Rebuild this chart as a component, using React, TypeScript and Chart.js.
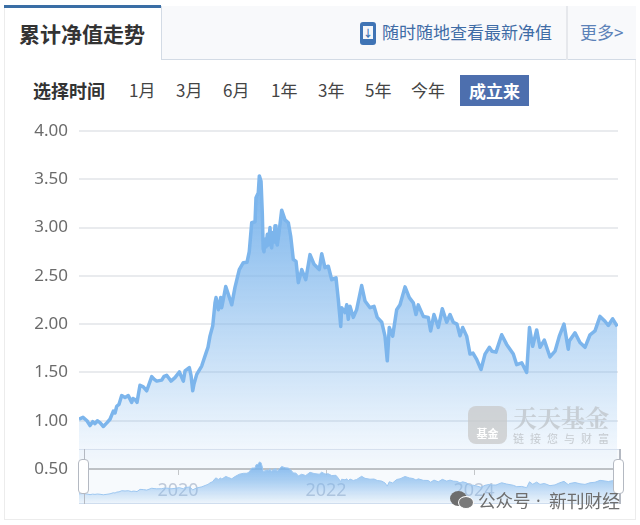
import React, { useEffect, useRef } from "react";
import { Chart, registerables } from "chart.js";

Chart.register(...registerables);

const years = [
  2018.662, 2018.716, 2018.77, 2018.811, 2018.847, 2018.878, 2018.909, 2018.946, 2018.991, 2019.041, 2019.081, 2019.126,
  2019.149, 2019.172, 2019.203, 2019.239, 2019.284, 2019.328, 2019.374, 2019.392, 2019.419, 2019.446, 2019.486, 2019.531,
  2019.577, 2019.645, 2019.676, 2019.712, 2019.78, 2019.811, 2019.847, 2019.878, 2019.905, 2019.959, 2020.018, 2020.072,
  2020.095, 2020.153, 2020.176, 2020.199, 2020.216, 2020.253, 2020.32, 2020.378, 2020.405, 2020.432, 2020.469, 2020.5,
  2020.514, 2020.545, 2020.577, 2020.59, 2020.608, 2020.645, 2020.68, 2020.726, 2020.77, 2020.828, 2020.882, 2020.932, 2020.963,
  2020.996, 2021.041, 2021.054, 2021.085, 2021.099, 2021.122, 2021.139, 2021.151, 2021.162, 2021.176, 2021.189, 2021.207, 2021.223, 2021.243, 2021.257, 2021.266, 2021.284, 2021.297, 2021.311,
  2021.324, 2021.342, 2021.365, 2021.401, 2021.446, 2021.491, 2021.523, 2021.558, 2021.595, 2021.626, 2021.672, 2021.726, 2021.784, 2021.838,
  2021.909, 2021.942, 2021.986, 2022.031, 2022.077, 2022.135, 2022.166, 2022.199, 2022.212, 2022.257, 2022.28, 2022.301, 2022.324,
  2022.369, 2022.414, 2022.482, 2022.527, 2022.595, 2022.649, 2022.693, 2022.753, 2022.797, 2022.828, 2022.855, 2022.901,
  2022.955, 2023.0, 2023.068, 2023.126, 2023.18, 2023.216, 2023.247, 2023.315, 2023.382, 2023.414, 2023.459, 2023.518,
  2023.572, 2023.631, 2023.676, 2023.72, 2023.77, 2023.811, 2023.847, 2023.901, 2023.946, 2023.986, 2024.036, 2024.095,
  2024.149, 2024.207, 2024.243, 2024.297, 2024.374, 2024.441, 2024.531, 2024.577, 2024.645, 2024.712, 2024.75, 2024.793,
  2024.847, 2024.892, 2024.95, 2025.027, 2025.095, 2025.153, 2025.216, 2025.274, 2025.288, 2025.365, 2025.432, 2025.5,
  2025.568, 2025.635, 2025.703, 2025.77, 2025.815, 2025.874, 2025.936,
];

const navValues = [
  1.015, 1.035, 1.0, 0.95, 0.99, 0.97, 1.0, 0.98, 0.94, 0.98, 1.015, 1.1,
  1.08, 1.15, 1.17, 1.26, 1.24, 1.26, 1.19, 1.23, 1.22, 1.19, 1.367, 1.35,
  1.31, 1.457, 1.43, 1.41, 1.42, 1.46, 1.47, 1.44, 1.41, 1.446, 1.505, 1.41,
  1.515, 1.55, 1.47, 1.31, 1.38, 1.48, 1.566, 1.7, 1.76, 1.876, 1.98, 2.22,
  2.275, 2.15, 2.275, 2.17, 2.24, 2.39, 2.31, 2.2, 2.38, 2.565, 2.636, 2.64, 2.75,
  3.05, 3.06, 3.31, 3.36, 3.535, 3.48, 3.15, 2.78, 2.75, 2.88, 2.8, 2.93, 2.82, 3.0, 2.82, 2.79, 2.95, 2.85, 3.02,
  2.86, 2.82, 2.95, 3.18, 3.08, 3.05, 2.91, 2.67, 2.65, 2.43, 2.565, 2.46, 2.72, 2.62,
  2.565, 2.73, 2.585, 2.6, 2.46, 2.48, 2.255, 1.976, 2.17, 2.12, 2.2, 2.05, 2.185,
  2.07, 2.15, 2.4, 2.24, 2.17, 2.185, 2.07, 2.02, 1.876, 1.62, 1.966, 1.876,
  2.15, 2.2, 2.386, 2.275, 2.22, 2.1, 2.2, 2.08, 2.07, 1.93, 2.1, 1.966,
  2.16, 2.02, 2.1, 2.02, 2.0, 1.88, 1.966, 1.876, 1.69, 1.7, 1.635, 1.53,
  1.69, 1.76, 1.72, 1.71, 1.89, 1.79, 1.69, 1.58, 1.6, 1.5, 1.966, 1.77,
  1.94, 1.76, 1.835, 1.66, 1.72, 1.876, 2.0, 1.74, 1.825, 1.91, 1.81, 1.76,
  1.89, 1.93, 2.08, 2.03, 1.986, 2.055, 1.976,
];

const yearTicks = [2020, 2022, 2024];
const ranges = ["1月", "3月", "6月", "1年", "3年", "5年", "今年"];
const rangeLeft = [129, 176, 223, 271, 318, 365, 411];

const X_MIN = 2018.662;
const X_MAX = 2025.946;
const points = years.map((x, i) => ({ x, y: navValues[i] }));
const FONT = '"Noto Sans", "Noto Sans CJK SC", sans-serif';
const CJK = '"Noto Sans CJK SC", "Noto Sans", sans-serif';

function fillGradient(stops: [number, string][]) {
  return (ctx: any) => {
    const { chart } = ctx;
    const a = chart.chartArea;
    if (!a) return "rgba(124,181,236,0.4)";
    const g = chart.ctx.createLinearGradient(0, a.top, 0, a.bottom);
    stops.forEach(([o, c]) => g.addColorStop(o, c));
    return g;
  };
}

const abs = (left: number, top: number, extra: any = {}) => ({
  position: "absolute",
  left,
  top,
  whiteSpace: "nowrap",
  ...extra,
}) as React.CSSProperties;

export default function App() {
  const mainRef = useRef<HTMLCanvasElement>(null);
  const navRef = useRef<HTMLCanvasElement>(null);

  useEffect(() => {
    const main = new Chart(mainRef.current!, {
      type: "line",
      data: {
        datasets: [
          {
            data: points,
            borderColor: "#7cb5ec",
            borderWidth: 3.5,
            borderJoinStyle: "round",
            pointRadius: 0,
            tension: 0,
            fill: "start",
            backgroundColor: fillGradient([
              [0, "rgba(124,181,236,1)"],
              [0.2, "rgba(124,181,236,0.95)"],
              [0.55, "rgba(124,181,236,0.55)"],
              [1, "rgba(124,181,236,0.04)"],
            ]),
          },
        ],
      },
      options: {
        animation: false,
        responsive: false,
        events: [],
        layout: { padding: { left: 0, right: 22, top: 131, bottom: 0 } },
        plugins: { legend: { display: false }, tooltip: { enabled: false } },
        scales: {
          x: {
            type: "linear",
            min: X_MIN,
            max: X_MAX,
            afterBuildTicks: (s: any) => {
              s.ticks = yearTicks.map((value) => ({ value }));
            },
            afterFit: (s: any) => {
              s.height = 56;
            },
            grid: { drawOnChartArea: false, tickLength: 6, tickColor: "#b0b0b0", tickWidth: 1 },
            border: { color: "#a8a8a8", width: 2 },
            ticks: {
              callback: (v: any) => String(v),
              color: "#aab5c8",
              font: { family: FONT, size: 18 },
              padding: 5,
              maxRotation: 0,
              autoSkip: false,
            },
          },
          y: {
            min: 0.5,
            max: 4,
            afterFit: (s: any) => {
              s.width = 79;
            },
            grid: { color: "#e9ebee", lineWidth: 2, drawTicks: false },
            border: { display: false },
            ticks: {
              stepSize: 0.5,
              callback: (v: any) => Number(v).toFixed(2),
              color: "#6b6b6b",
              font: { family: FONT, size: 17 },
              padding: 11,
            },
          },
        },
      },
    } as any);

    const nav = new Chart(navRef.current!, {
      type: "line",
      data: {
        datasets: [
          {
            data: points,
            borderColor: "#9cc6f0",
            borderWidth: 1,
            borderJoinStyle: "round",
            pointRadius: 0,
            tension: 0,
            fill: "start",
            backgroundColor: fillGradient([
              [0.2, "rgba(124,181,236,1)"],
              [0.6, "rgba(124,181,236,0.6)"],
              [1, "rgba(124,181,236,0.06)"],
            ]),
          },
        ],
      },
      options: {
        animation: false,
        responsive: false,
        events: [],
        layout: { padding: { left: 79, right: 22, top: 449, bottom: 21 } },
        plugins: { legend: { display: false }, tooltip: { enabled: false } },
        scales: {
          x: { type: "linear", display: false, min: X_MIN, max: X_MAX },
          y: { display: false, min: 0.21, max: 4.56 },
        },
      },
    } as any);

    return () => {
      main.destroy();
      nav.destroy();
    };
  }, []);

  const handle = (left: number) => (
    <div
      style={abs(left, 459, {
        width: 11,
        height: 35,
        background: "#fff",
        border: "1.5px solid #b4b9c2",
        borderRadius: 4,
        boxSizing: "border-box",
      })}
    />
  );

  return (
    <div style={abs(0, 0, { width: 640, height: 525, background: "#fff", overflow: "hidden", fontFamily: CJK, filter: "blur(0.45px)" })}>
      {/* card frame */}
      <div style={abs(4, 6, { width: 632, height: 514, border: "1.5px solid #ececec", boxSizing: "border-box" })} />
      {/* header */}
      <div style={abs(161, 6, { width: 475, height: 54, background: "#f8f9fb", borderBottom: "1.5px solid #d3dbe5", borderLeft: "1.5px solid #d3dbe5", boxSizing: "border-box" })} />
      <div style={abs(566, 6, { width: 1.5, height: 54, background: "#e6e8ec" })} />
      <div style={abs(4, 5, { width: 157, height: 2.5, background: "#3a6ea5" })} />
      <div style={abs(19, 19, { fontSize: 21, lineHeight: "28px", fontWeight: 700, color: "#333" })}>累计净值走势</div>
      <div style={abs(360, 22, { width: 16, height: 23, background: "#3f74b5", borderRadius: 3 })}>
        <div style={abs(3, 4, { width: 10, height: 13, background: "#f4f7fb", color: "#3f74b5", fontSize: 10, lineHeight: "13px", textAlign: "center", fontWeight: 700 })}>↓</div>
      </div>
      <div style={abs(382, 20, { fontSize: 17, lineHeight: "24px", color: "#3f6ca6" })}>随时随地查看最新净值</div>
      <div style={abs(580, 20, { fontSize: 17, lineHeight: "24px", color: "#5c82b8" })}>更多&gt;</div>
      {/* range selector */}
      <div style={abs(33, 78, { fontSize: 18, lineHeight: "24px", fontWeight: 700, color: "#333" })}>选择时间</div>
      {ranges.map((r, i) => (
        <div key={r} style={abs(rangeLeft[i], 78, { fontSize: 17, lineHeight: "24px", color: "#444" })}>{r}</div>
      ))}
      <div style={abs(460, 75, { width: 69, height: 31, background: "#4d6fae", color: "#fff", fontSize: 17, lineHeight: "31px", textAlign: "center", fontWeight: 700 })}>成立来</div>

      <canvas ref={mainRef} width={640} height={525} style={abs(0, 0, { display: "block" })} />

      {/* logo watermark */}
      <div style={abs(468, 406, { width: 39, height: 38, background: "rgba(200,200,200,0.72)", borderRadius: 8, color: "#fff", fontSize: 11, lineHeight: "14px", textAlign: "center", paddingTop: 20, boxSizing: "border-box", fontWeight: 700 })}>基金</div>
      <div style={abs(513, 403, { fontSize: 24, lineHeight: "28px", fontWeight: 700, color: "rgba(190,195,200,0.75)", fontFamily: '"Noto Serif CJK SC", "Noto Sans CJK SC", serif' })}>天天基金</div>
      <div style={abs(513, 431, { fontSize: 11, lineHeight: "14px", letterSpacing: 6, color: "rgba(190,195,200,0.85)" })}>链接您与财富</div>

      {/* navigator frame */}
      <div style={abs(79, 449, { width: 540, height: 55, background: "rgba(233,240,250,0.35)", borderTop: "1.5px solid #d6e0ee", borderBottom: "1.5px solid #d6e0ee", boxSizing: "border-box" })} />
      <canvas ref={navRef} width={640} height={525} style={abs(0, 0, { display: "block", pointerEvents: "none" })} />
      <div style={abs(83.5, 449, { width: 1.5, height: 55, background: "#b4b9c2" })} />
      <div style={abs(619, 449, { width: 1.5, height: 55, background: "#b4b9c2" })} />
      {handle(78)}
      {handle(613)}

      {/* WeChat watermark */}
      <div style={abs(450, 491, { width: 17, height: 15, background: "#6d6d6d", borderRadius: "50%" })} />
      <div style={abs(458, 496, { width: 16, height: 13, background: "#7a7a7a", borderRadius: "50%", border: "1px solid #fff", boxSizing: "border-box" })} />
      <div style={abs(478, 488, { fontSize: 17.5, lineHeight: "24px", color: "#6e6e6e" })}>公众号</div>
      <div style={abs(536, 488, { fontSize: 17.5, lineHeight: "24px", color: "#6e6e6e", fontFamily: FONT })}>·</div>
      <div style={abs(549, 488, { fontSize: 17.75, lineHeight: "24px", color: "#6e6e6e" })}>新刊财经</div>
    </div>
  );
}
